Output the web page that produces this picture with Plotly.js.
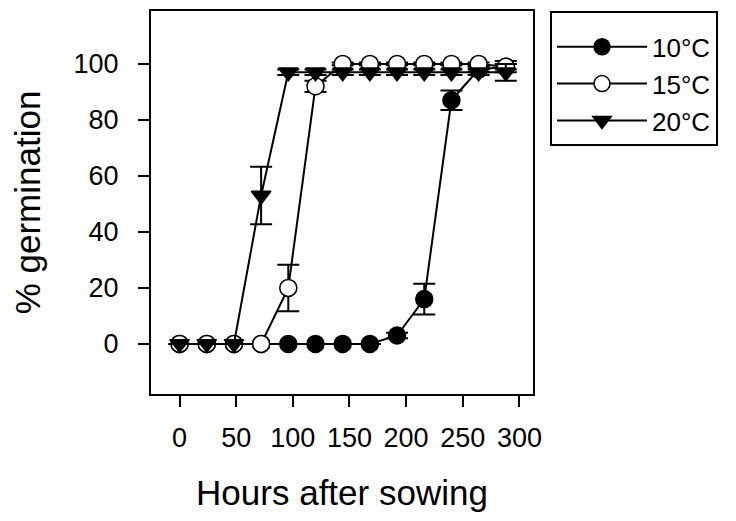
<!DOCTYPE html>
<html>
<head>
<meta charset="utf-8">
<script src="https://cdn.plot.ly/plotly-3.0.1.min.js"></script>
<style>html,body{margin:0;padding:0;background:#fff;}#chart{width:736px;height:521px;}</style>
</head>
<body>
<div id="chart"></div>
<script>
const hours = [0, 24, 48, 72, 96, 120, 144, 168, 192, 216, 240, 264, 288];
const seriesNames = ["10°C", "15°C", "20°C"];
const germ10 = [0, 0, 0, 0, 0, 0, 0, 0, 3, 16, 87, 98, 99];
const err10  = [0, 0, 0, 0, 0, 0, 0, 0, 1, 5.5, 3.5, 1, 1];
const germ15 = [0, 0, 0, 0, 20, 92, 100, 100, 100, 100, 100, 100, 99];
const err15  = [0, 0, 0, 0, 8.3, 2, 0.5, 0.5, 0.5, 0.5, 0.5, 0.5, 2];
const germ20 = [0, 0, 0, 53, 97, 97, 97, 97, 97, 97, 97, 97, 97];
const err20  = [0, 0, 0, 10.3, 1, 1, 1, 1, 1, 1, 1, 1, 3];
const xTicks = [0, 50, 100, 150, 200, 250, 300];
const yTicks = [0, 20, 40, 60, 80, 100];

const FONT = "Liberation Sans, Arial, sans-serif";

function makeTrace(y, e, name, symbol, fill) {
  return {
    x: hours, y: y, name: name, type: "scatter", mode: "lines+markers",
    line: {color: "#000", width: 2},
    marker: {symbol: symbol, size: 17, color: fill, line: {color: "#000", width: 1.5}},
    error_y: {type: "data", array: e, visible: true, color: "#000", thickness: 2, width: 11}
  };
}

const data = [
  makeTrace(germ10, err10, seriesNames[0], "circle", "#000"),
  makeTrace(germ15, err15, seriesNames[1], "circle", "#fff"),
  makeTrace(germ20, err20, seriesNames[2], "triangle-down", "#000")
];

const layout = {
  width: 736, height: 521,
  margin: {l: 151, r: 203, t: 11, b: 127},
  paper_bgcolor: "#fff", plot_bgcolor: "#fff",
  font: {family: FONT, color: "#000", size: 27},
  showlegend: true,
  legend: {
    x: 1.0445, y: 1, xanchor: "left", yanchor: "top",
    bordercolor: "#000", borderwidth: 2, bgcolor: "#fff",
    itemwidth: 90,
    title: {text: "\u00a0", font: {family: FONT, size: 8, color: "#000"}},
    font: {family: FONT, size: 26, color: "#000"}
  },
  xaxis: {
    range: [-25.2, 312], tickmode: "array", tickvals: xTicks,
    ticks: "outside", ticklen: 11, tickwidth: 2, tickcolor: "#000",
    showline: true, linecolor: "#000", linewidth: 2, mirror: true,
    showgrid: false, zeroline: false,
    tickfont: {family: FONT, size: 27, color: "#000"},
    ticklabelstandoff: 8,
    title: {text: "Hours after sowing", font: {family: FONT, size: 35, color: "#000"}, standoff: 28}
  },
  yaxis: {
    range: [-17.9, 118.9], tickmode: "array", tickvals: yTicks,
    ticks: "outside", ticklen: 11, tickwidth: 2, tickcolor: "#000",
    showline: true, linecolor: "#000", linewidth: 2, mirror: true,
    showgrid: false, zeroline: false,
    tickfont: {family: FONT, size: 27, color: "#000"},
    ticklabelstandoff: 14,
    title: {text: "% germination", font: {family: FONT, size: 35, color: "#000"}, standoff: 22}
  }
};

Plotly.newPlot("chart", data, layout, {staticPlot: true, displayModeBar: false});
</script>
</body>
</html>
